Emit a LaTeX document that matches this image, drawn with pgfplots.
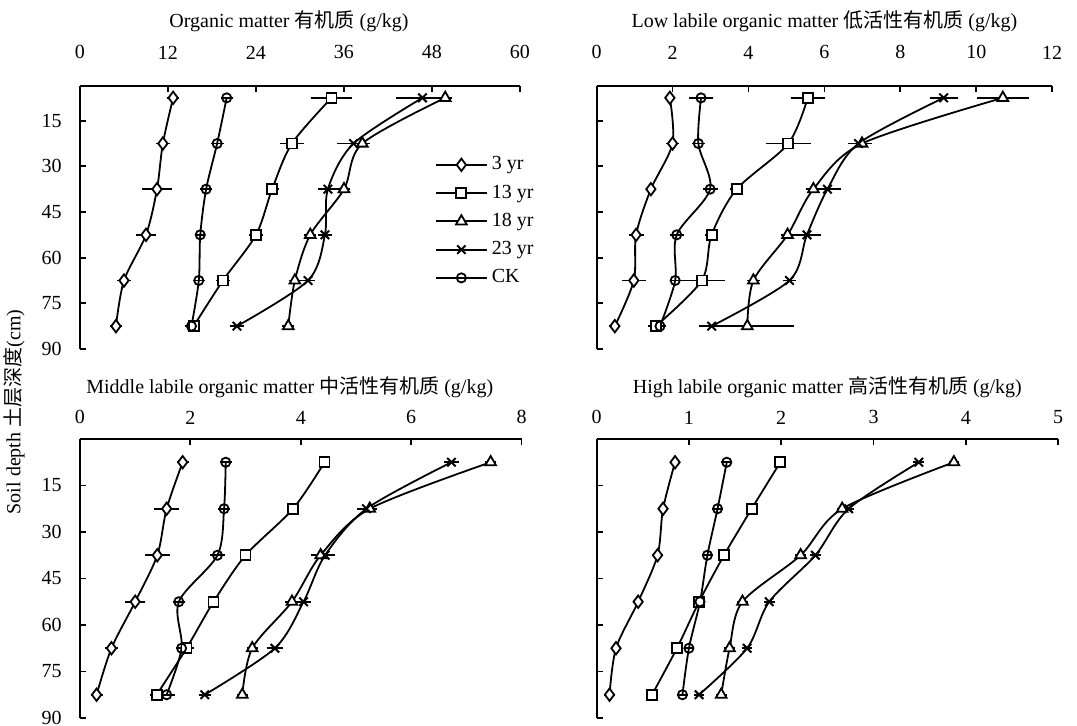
\documentclass[border=0pt]{standalone}
\usepackage{fontspec}
\setmainfont{Liberation Serif}
\newfontfamily\cjk{Noto Sans CJK SC}
\usepackage{pgfplots}
\pgfplotsset{compat=1.18}
\pgfplotsset{
 panel/.style={
  scale only axis, y dir=reverse, ymax=90, xmin=0,
  ytick={15,30,45,60,75,90},
  axis x line*=top, axis y line*=left,
  tick align=inside, major tick length=3pt,
  every tick/.style={black, line width=0.9pt},
  axis line style={line width=1.1pt, black},
  tick label style={font=\fontsize{10}{12}\selectfont},
  yticklabel style={xshift=-5.7pt},
  /pgf/number format/assume math mode=true,
  title style={font=\fontsize{10}{12}\selectfont, at={(0.5,1)}, anchor=center},
  clip=false,
  every axis plot/.append style={line width=0.9pt, black, smooth},
  legend image code/.code={\draw[mark repeat=2,mark phase=2,#1] plot coordinates {(0pt,0pt)(12.8pt,0pt)(25.6pt,0pt)};},
 },
 eb/.style={error bars/x dir=both, error bars/x explicit,
   error bars/error bar style={line width=0.8pt, solid},
   error bars/error mark options={line width=0.8pt, mark size=2.2pt, solid}},
 s3/.style={mark=diamond*, mark size=3.1pt, mark options={fill=white, solid, line width=0.9pt}, eb},
 s13/.style={mark=square*, mark size=2.5pt, mark options={fill=white, solid, line width=0.9pt}, eb},
 s18/.style={mark=triangle*, mark size=3.1pt, mark options={fill=white, solid, line width=0.9pt}, eb},
 s23/.style={mark=x, mark size=3pt, mark options={solid, line width=1pt}, eb},
 sCK/.style={mark=o, mark size=2.3pt, mark options={solid, line width=0.9pt}, eb},
}
\begin{document}
\begin{tikzpicture}
\useasboundingbox (0,0) rectangle (538.5pt,363pt);
\node[rotate=90, font=\fontsize{10}{12}\selectfont] at (7pt,157pt) {Soil depth {\cjk 土层深度}(cm)};

% Panel 1
\begin{axis}[panel, at={(40pt,320pt)}, anchor=north west, width=220pt, height=131.5pt,
  ymin=3.6, xmax=60, xtick={0,12,24,36,48,60},
  xticklabel style={yshift=9.9pt},
  title={Organic matter {\cjk 有机质} (g/kg)}, title style={yshift=26.5pt, xshift=-5.5pt},
  legend style={at={(0.792,0.763)}, anchor=north west, draw=none, fill=none, font=\fontsize{10}{12}\selectfont, row sep=2pt,
    every even column/.style={column sep=2.5pt}},
  legend cell align=left]
\addplot[s3] table[x=x,y=y,x error=e] {
x y e
12.7 7.5 0.2
11.3 22.5 0.4
10.5 37.5 1.4
9.0 52.5 0.8
6.0 67.5 0.3
4.9 82.5 0.2
};
\addlegendentry{3 yr}
\addplot[s13] table[x=x,y=y,x error=e] {
x y e
34.3 7.5 2.2
28.9 22.5 1.0
26.2 37.5 0.3
24.0 52.5 0.3
19.5 67.5 0.3
15.5 82.5 0.3
};
\addlegendentry{13 yr}
\addplot[s18] table[x=x,y=y,x error=e] {
x y e
49.8 7.5 0.3
38.5 22.5 0.3
36.0 37.5 0.2
31.4 52.5 0.2
29.3 67.5 0.2
28.4 82.5 0.2
};
\addlegendentry{18 yr}
\addplot[s23] table[x=x,y=y,x error=e] {
x y e
46.7 7.5 3.0
37.3 22.5 1.6
33.8 37.5 0.8
33.4 52.5 0.3
31.1 67.5 0.3
21.4 82.5 0.3
};
\addlegendentry{23 yr}
\addplot[sCK] table[x=x,y=y,x error=e] {
x y e
20.0 7.5 0.2
18.7 22.5 0.3
17.2 37.5 0.2
16.4 52.5 0.1
16.2 67.5 0.2
15.2 82.5 0.3
};
\addlegendentry{CK}
\end{axis}

% Panel 2
\begin{axis}[panel, at={(298.3pt,320pt)}, anchor=north west, width=227.8pt, height=131.5pt,
  ymin=3.6, xmax=12, xtick={0,2,4,6,8,10,12}, yticklabels={},
  xticklabel style={yshift=9.9pt},
  title={Low labile organic matter {\cjk 低活性有机质} (g/kg)}, title style={yshift=26.5pt}]
\addplot[s3] table[x=x,y=y,x error=e] {
x y e
1.93 7.5 0.02
2.00 22.5 0.05
1.43 37.5 0.02
1.04 52.5 0.08
0.98 67.5 0.2
0.48 82.5 0.03
};
\addplot[s13] table[x=x,y=y,x error=e] {
x y e
5.56 7.5 0.33
5.05 22.5 0.48
3.69 37.5 0.05
3.03 52.5 0.05
2.77 67.5 0.5
1.56 82.5 0.1
};
\addplot[s18] table[x=x,y=y,x error=e] {
x y e
10.7 7.5 0.56
6.99 22.5 0.15
5.71 37.5 0.08
5.03 52.5 0.05
4.13 67.5 0.05
3.97 82.5 1.12
};
\addplot[s23] table[x=x,y=y,x error=e] {
x y e
9.14 7.5 0.25
6.90 22.5 0.15
6.08 37.5 0.25
5.54 52.5 0.25
5.08 67.5 0.05
3.03 82.5 0.22
};
\addplot[sCK] table[x=x,y=y,x error=e] {
x y e
2.75 7.5 0.2
2.68 22.5 0.05
2.99 37.5 0.08
2.11 52.5 0.07
2.07 67.5 0.03
1.67 82.5 0.05
};
\end{axis}

% Panel 3
\begin{axis}[panel, at={(40pt,143.5pt)}, anchor=north west, width=220.8pt, height=139.5pt,
  ymin=0, xmax=8, xtick={0,2,4,6,8},
  xticklabel style={yshift=3.9pt},
  title={Middle labile organic matter {\cjk 中活性有机质} (g/kg)}, title style={yshift=20pt, xshift=-5.5pt}]
\addplot[s3] table[x=x,y=y,x error=e] {
x y e
1.86 7.5 0.03
1.57 22.5 0.15
1.40 37.5 0.15
1.00 52.5 0.1
0.57 67.5 0.03
0.30 82.5 0.03
};
\addplot[s13] table[x=x,y=y,x error=e] {
x y e
4.43 7.5 0.02
3.86 22.5 0.02
3.00 37.5 0.02
2.42 52.5 0.02
1.93 67.5 0.05
1.39 82.5 0.05
};
\addplot[s18] table[x=x,y=y,x error=e] {
x y e
7.44 7.5 0.02
5.25 22.5 0.05
4.36 37.5 0.1
3.84 52.5 0.05
3.12 67.5 0.02
2.94 82.5 0.02
};
\addplot[s23] table[x=x,y=y,x error=e] {
x y e
6.73 7.5 0.05
5.19 22.5 0.1
4.44 37.5 0.1
4.05 52.5 0.05
3.53 67.5 0.07
2.26 82.5 0.03
};
\addplot[sCK] table[x=x,y=y,x error=e] {
x y e
2.64 7.5 0.03
2.61 22.5 0.03
2.49 37.5 0.05
1.79 52.5 0.03
1.84 67.5 0.03
1.57 82.5 0.07
};
\end{axis}

% Panel 4
\begin{axis}[panel, at={(298.3pt,143.5pt)}, anchor=north west, width=230.8pt, height=139.5pt,
  ymin=0, xmax=5, xtick={0,1,2,3,4,5}, yticklabels={},
  xticklabel style={yshift=3.9pt},
  title={High labile organic matter {\cjk 高活性有机质} (g/kg)}, title style={yshift=20pt}]
\addplot[s3] table[x=x,y=y,x error=e] {
x y e
0.85 7.5 0.01
0.72 22.5 0.01
0.66 37.5 0.01
0.45 52.5 0.01
0.21 67.5 0.01
0.14 82.5 0.01
};
\addplot[s13] table[x=x,y=y,x error=e] {
x y e
1.99 7.5 0.01
1.68 22.5 0.01
1.38 37.5 0.01
1.11 52.5 0.01
0.87 67.5 0.01
0.60 82.5 0.01
};
\addplot[s18] table[x=x,y=y,x error=e] {
x y e
3.87 7.5 0.01
2.66 22.5 0.01
2.21 37.5 0.01
1.58 52.5 0.01
1.44 67.5 0.01
1.35 82.5 0.01
};
\addplot[s23] table[x=x,y=y,x error=e] {
x y e
3.49 7.5 0.01
2.73 22.5 0.01
2.37 37.5 0.01
1.87 52.5 0.01
1.63 67.5 0.01
1.11 82.5 0.01
};
\addplot[sCK] table[x=x,y=y,x error=e] {
x y e
1.41 7.5 0.01
1.31 22.5 0.01
1.20 37.5 0.01
1.12 52.5 0.01
1.00 67.5 0.01
0.93 82.5 0.01
};
\end{axis}
\end{tikzpicture}
\end{document}
